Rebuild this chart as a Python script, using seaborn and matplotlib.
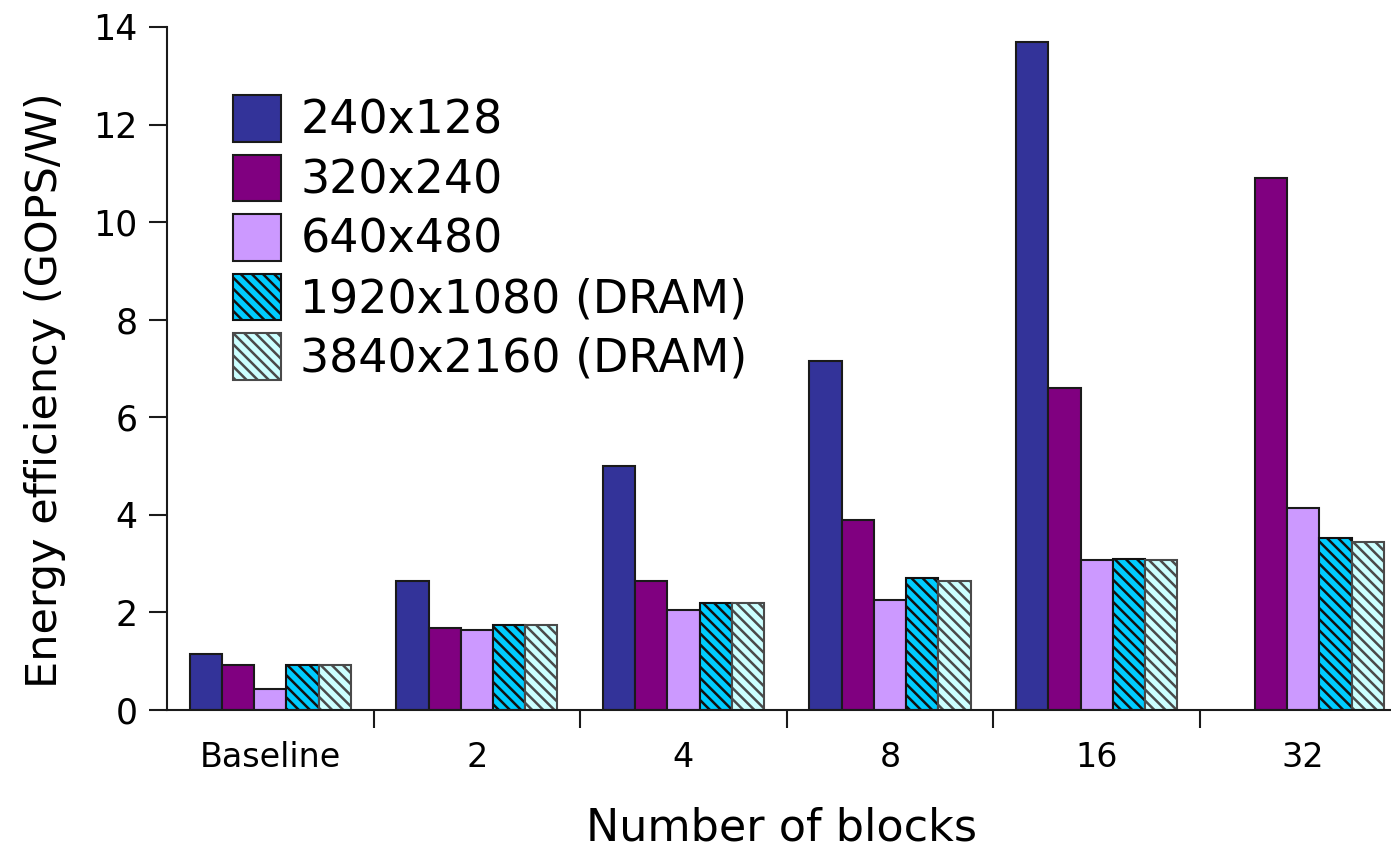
import numpy as np
import pandas as pd
import matplotlib
matplotlib.use("Agg")
import matplotlib.pyplot as plt
from matplotlib.patches import Patch
from matplotlib.ticker import FixedLocator
import seaborn as sns

# Energy efficiency (GOPS/W) per block count, one list per frame resolution
blocks = ["Baseline", "2", "4", "8", "16", "32"]
resolutions = ["240x128", "320x240", "640x480", "1920x1080 (DRAM)", "3840x2160 (DRAM)"]
eff_240x128 = [1.15, 2.65, 5.0, 7.15, 13.7, np.nan]
eff_320x240 = [0.92, 1.68, 2.65, 3.9, 6.6, 10.9]
eff_640x480 = [0.43, 1.63, 2.05, 2.25, 3.07, 4.15]
eff_1920x1080 = [0.92, 1.75, 2.2, 2.7, 3.1, 3.52]
eff_3840x2160 = [0.92, 1.75, 2.2, 2.65, 3.07, 3.45]

series = [eff_240x128, eff_320x240, eff_640x480, eff_1920x1080, eff_3840x2160]
df = pd.DataFrame(
    [(b, r, v) for r, vals in zip(resolutions, series) for b, v in zip(blocks, vals)],
    columns=["blocks", "resolution", "efficiency"],
)

face_colors = ["#333399", "#800080", "#cc99ff", "#00ccff", "#ccffff"]
edge_colors = ["#1a1a1a", "#1a1a1a", "#1a1a1a", "#111111", "#4a4a4a"]
hatches = ["", "", "", "\\\\\\", "\\\\\\"]

sns.set_style("ticks")
plt.rcParams["font.family"] = ["DejaVu Sans"]
plt.rcParams["hatch.linewidth"] = 1.8
plt.rcParams["text.color"] = "black"
plt.rcParams["axes.labelcolor"] = "black"
plt.rcParams["xtick.color"] = "black"
plt.rcParams["ytick.color"] = "black"

fig = plt.figure(figsize=(13.91, 8.49), dpi=100)
ax = fig.add_axes([167 / 1391, 1 - 710 / 849, (1390 - 167) / 1391, (710 - 27) / 849])

sns.barplot(
    data=df, x="blocks", y="efficiency", hue="resolution",
    order=blocks, hue_order=resolutions, palette=face_colors,
    saturation=1, width=0.78, edgecolor="#1a1a1a", linewidth=1.5,
    legend=False, ax=ax,
)

for cont, h, ec in zip(ax.containers, hatches, edge_colors):
    for p in cont:
        p.set_hatch(h)
        p.set_edgecolor(ec)

ax.set_xlim(-0.5, 5.42)
ax.set_ylim(0, 14)
ax.set_yticks(np.arange(0, 15, 2))

# category labels centred, tick marks on group boundaries
ax.tick_params(axis="x", which="major", length=0, labelsize=24, pad=22)
ax.xaxis.set_minor_locator(FixedLocator(np.arange(0.5, 5.0, 1.0)))
ax.tick_params(axis="x", which="minor", length=13, width=1.5, direction="out", color="#1a1a1a")
ax.tick_params(axis="y", length=13, width=1.5, direction="out", labelsize=25, pad=8, color="#1a1a1a")

for side in ("top", "right"):
    ax.spines[side].set_visible(False)
for side in ("left", "bottom"):
    ax.spines[side].set_linewidth(1.5)
    ax.spines[side].set_color("#1a1a1a")

ax.set_xlabel("Number of blocks", fontsize=32)
ax.xaxis.set_label_coords((781 - 167) / (1390 - 167), -(828 - 710) / 683)
ax.xaxis.label.set_va("center")
ax.set_ylabel("Energy efficiency (GOPS/W)", fontsize=31)
ax.yaxis.set_label_coords(-(167 - 45) / (1390 - 167), (710 - 390) / 683)
ax.yaxis.label.set_va("center")

handles = [
    Patch(facecolor=fc, edgecolor=ec, hatch=h, linewidth=1.5, label=lab)
    for fc, ec, h, lab in zip(face_colors, edge_colors, hatches, resolutions)
]
fig.legend(
    handles=handles, loc="upper left",
    bbox_to_anchor=(233 / 1391, 1 - 95 / 849), bbox_transform=fig.transFigure,
    frameon=False, fontsize=33, handlelength=1.05, handleheight=1.2,
    handletextpad=0.42, labelspacing=0.23, borderpad=0, borderaxespad=0,
)

fig.savefig("out.png", dpi=100)
